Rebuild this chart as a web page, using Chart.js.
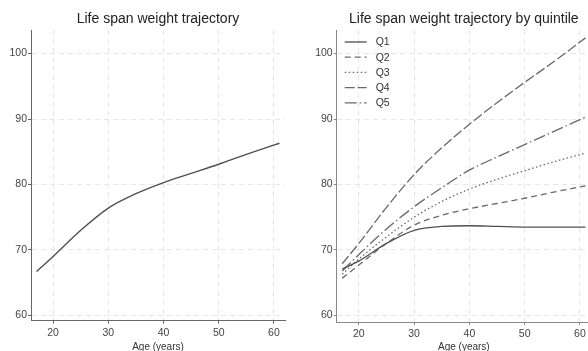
<!DOCTYPE html>
<html>
<head>
<meta charset="utf-8">
<script src="https://cdn.jsdelivr.net/npm/chart.js@4/dist/chart.umd.min.js"></script>
<style>
  html, body { margin: 0; padding: 0; background: #fff; overflow: hidden; width: 588px; height: 351px; }
  #left { position: absolute; left: 0; top: 0; }
  #right { position: absolute; left: 294px; top: 0; }
</style>
</head>
<body>
<canvas id="left" width="314" height="351" style="width:314px;height:351px"></canvas>
<canvas id="right" width="340" height="351" style="width:340px;height:351px"></canvas>
<script>
const ages = [17, 20, 25, 30, 35, 40, 45, 50, 55, 61];
const overall = [66.7, 69.0, 73.0, 76.4, 78.6, 80.3, 81.7, 83.1, 84.6, 86.3];

const q1 = [67.1, 68.3, 71.0, 73.0, 73.6, 73.7, 73.6, 73.5, 73.5, 73.5];
const q2 = [65.7, 67.7, 71.0, 73.8, 75.3, 76.3, 77.1, 77.9, 78.8, 79.8];
const q3 = [66.3, 68.6, 72.0, 75.0, 77.4, 79.3, 80.8, 82.1, 83.4, 84.8];
const q4 = [67.9, 71.0, 76.5, 81.5, 85.6, 89.2, 92.5, 95.6, 98.6, 102.4];
const q5 = [66.8, 69.3, 73.2, 76.6, 79.5, 82.2, 84.2, 86.1, 88.0, 90.3];
const quintileLabels = ['Q1', 'Q2', 'Q3', 'Q4', 'Q5'];

const xTicks = [20, 30, 40, 50, 60];
const yTicks = [60, 70, 80, 90, 100];

const FONT = 'Liberation Sans, Arial, Helvetica, sans-serif';

function pts(vals) {
    return ages.map((a, i) => ({ x: a, y: vals[i] }));
}

function scales(yMin, yWidth, xHeight, axisColor) {
    return {
        x: {
            type: 'linear',
            min: 16,
            max: 62,
            afterBuildTicks: (s) => { s.ticks = xTicks.map(v => ({ value: v })); },
            afterFit: (s) => { s.height = xHeight; },
            border: { color: axisColor, width: 1, dash: [5, 4] },
            grid: {
                color: '#e6e6e6',
                tickLength: 3,
                tickColor: axisColor,
                tickBorderDash: [],
                tickWidth: 1
            },
            ticks: { color: '#444', font: { family: FONT, size: 10.5 }, padding: 3, maxRotation: 0 },
            title: {
                display: true,
                text: 'Age (years)',
                color: '#333',
                font: { family: FONT, size: 10 },
                padding: { top: 0, bottom: -2 }
            }
        },
        y: {
            type: 'linear',
            min: yMin,
            max: 103.6,
            afterBuildTicks: (s) => { s.ticks = yTicks.map(v => ({ value: v })); },
            afterFit: (s) => { s.width = yWidth; },
            border: { color: axisColor, width: 1, dash: [5, 4] },
            grid: {
                color: '#e6e6e6',
                tickLength: 3,
                tickColor: axisColor,
                tickBorderDash: [],
                tickWidth: 1
            },
            ticks: { color: '#444', font: { family: FONT, size: 10.5 }, padding: 1 }
        }
    };
}

// panel title centred over the plot area rather than the canvas
const panelTitle = {
    id: 'panelTitle',
    afterDraw(chart, args, opts) {
        const ctx = chart.ctx;
        const area = chart.chartArea;
        ctx.save();
        ctx.font = '14px ' + FONT;
        ctx.fillStyle = '#222';
        ctx.textAlign = 'center';
        ctx.textBaseline = 'middle';
        ctx.fillText(opts.text, (area.left + area.right) / 2, 19.5);
        ctx.restore();
    }
};

// legend drawn inside the plot area, top-left, one row per dataset
const insideLegend = {
    id: 'insideLegend',
    afterDatasetsDraw(chart) {
        const ctx = chart.ctx;
        const area = chart.chartArea;
        ctx.save();
        ctx.font = '10.5px ' + FONT;
        ctx.textBaseline = 'middle';
        chart.data.datasets.forEach((ds, i) => {
            const y = area.top + 12 + i * 15.2;
            const x = area.left + 8;
            ctx.strokeStyle = ds.borderColor;
            ctx.lineWidth = ds.borderWidth;
            ctx.setLineDash(ds.borderDash || []);
            ctx.beginPath();
            ctx.moveTo(x, y);
            ctx.lineTo(x + 22, y);
            ctx.stroke();
            ctx.setLineDash([]);
            ctx.fillStyle = '#333';
            ctx.fillText(ds.label, x + 31, y + 0.5);
        });
        ctx.restore();
    }
};

new Chart(document.getElementById('left'), {
    type: 'line',
    data: {
        datasets: [{
            label: 'Weight',
            data: pts(overall),
            borderColor: '#505050',
            borderWidth: 1.4,
            pointRadius: 0,
            cubicInterpolationMode: 'monotone'
        }]
    },
    options: {
        responsive: false,
        animation: false,
        layout: { padding: { left: 0, right: 29, top: 30, bottom: 0 } },
        scales: scales(59.2, 31, 30.3, '#666'),
        plugins: {
            legend: { display: false },
            tooltip: { enabled: false },
            title: { display: false },
            panelTitle: { text: 'Life span weight trajectory' }
        }
    },
    plugins: [panelTitle]
});

const qSeries = [q1, q2, q3, q4, q5];
const qDash = [[], [6, 4], [1.5, 2.5], [10, 3], [12, 3, 1.5, 3]];
const qColor = ['#505050', '#6a6a6a', '#6a6a6a', '#6a6a6a', '#6a6a6a'];

new Chart(document.getElementById('right'), {
    type: 'line',
    data: {
        datasets: qSeries.map((vals, i) => ({
            label: quintileLabels[i],
            data: pts(vals),
            borderColor: qColor[i],
            backgroundColor: qColor[i],
            borderWidth: 1.3,
            borderDash: qDash[i],
            pointRadius: 0,
            cubicInterpolationMode: 'monotone'
        }))
    },
    options: {
        responsive: false,
        animation: false,
        layout: { padding: { left: 0, right: 43, top: 30, bottom: 0 } },
        scales: scales(59.0, 42.7, 29, '#888'),
        plugins: {
            legend: { display: false },
            tooltip: { enabled: false },
            title: { display: false },
            panelTitle: { text: 'Life span weight trajectory by quintile' }
        }
    },
    plugins: [panelTitle, insideLegend]
});
</script>
</body>
</html>
